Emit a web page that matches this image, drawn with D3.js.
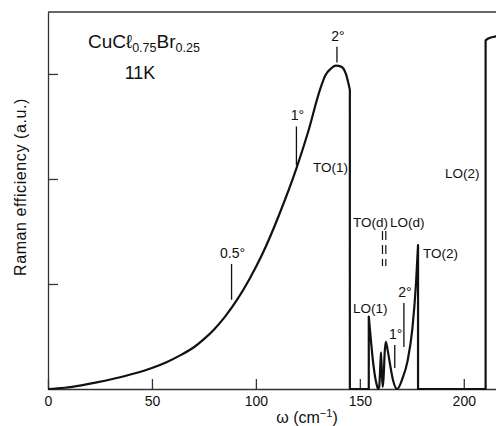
<!DOCTYPE html>
<html>
<head>
  <meta charset="utf-8">
  <title>Raman efficiency CuCl0.75Br0.25</title>
  <script src="https://d3js.org/d3.v7.min.js"></script>
  <style>
    body { margin: 0; background: #fff; }
    text { font-family: "Liberation Sans", Arial, sans-serif; fill: #111; }
  </style>
</head>
<body>
<script>
// spectrum (omega in cm-1, efficiency in a.u.)
// a repeated omega is a vertical jump in the trace
var omega = [0, 8, 16, 24, 32, 41, 50, 57, 64, 70, 75, 80, 85, 91.3, 97, 103, 111, 119.5, 125, 131,
             133.5, 136, 138.5, 141, 143.3, 145.2, 145.2, 154.3, 154.3, 155.3, 156.4, 157.3, 158, 158.8,
             159.3, 159.8, 160.2, 160.6, 161.0, 161.4, 162, 162.5, 163.3, 164.4, 166, 167.9, 170.5, 173,
             175.3, 177, 178, 178, 210.5, 210.5, 212, 216];
var efficiency = [0, 0.012, 0.035, 0.065, 0.10, 0.145, 0.20, 0.255, 0.325, 0.395, 0.475, 0.57, 0.685, 0.86, 1.05, 1.28, 1.65, 2.10, 2.44, 2.86,
             2.99, 3.05, 3.08, 3.07, 3.00, 2.85, 0, 0, 0.69, 0.47, 0.25, 0.12, 0.05, 0,
             0.02, 0.20, 0.35, 0.15, 0.02, 0.10, 0.36, 0.45, 0.38, 0.25, 0.08, 0, 0.10, 0.27,
             0.58, 1.0, 1.37, 0, 0, 3.32, 3.34, 3.36];

// temperature markers (angle labels)
var markLabels = ["0.5°", "1°", "2°", "1°", "2°"];
var markOmega = [88.3, 119.5, 139, 166.8, 171.2];
var markTop = [1.19, 2.50, 3.26, 0.42, 0.82];
var markBottom = [0.85, 2.13, 3.11, 0.20, 0.40];

// dashed TO(d) / LO(d) positions
var dOmega = [160.9, 162.5];

var xTicks = [0, 50, 100, 150, 200];
var yTicks = [1, 2, 3];

var w = 496, h = 426;
var x = d3.scaleLinear().domain([0, 215.5]).range([48, 496]);
var y = d3.scaleLinear().domain([0, 3.59]).range([389, 12]);

var svg = d3.select("body").append("svg").attr("width", w).attr("height", h);

// axes
var gx = svg.append("g").attr("transform", "translate(0,389)")
  .call(d3.axisBottom(x).tickValues(xTicks).tickSize(-10).tickSizeOuter(0).tickPadding(7));
gx.selectAll("text").attr("font-size", "14px").attr("fill", "#111");

var gy = svg.append("g").attr("transform", "translate(48,0)")
  .call(d3.axisLeft(y).tickValues(yTicks).tickSize(-10).tickSizeOuter(0).tickFormat(""));

svg.selectAll(".domain, .tick line").attr("stroke", "#333").attr("stroke-width", 1.3);

svg.append("line")
  .attr("x1", 48).attr("x2", 496).attr("y1", 12).attr("y2", 12)
  .attr("stroke", "#333").attr("stroke-width", 1.3);

// trace: smooth pieces joined by vertical jumps
var pts = omega.map(function(o, i) { return [o, efficiency[i]]; });
var segs = [[pts[0]]];
for (var i = 1; i < pts.length; i++) {
  if (pts[i][0] === pts[i - 1][0]) segs.push([pts[i]]);
  else segs[segs.length - 1].push(pts[i]);
}
var line = d3.line().x(function(d) { return x(d[0]); }).y(function(d) { return y(d[1]); })
  .curve(d3.curveMonotoneX);
var pathD = segs.map(function(s, k) {
  var d = s.length > 1 ? line(s) : "M" + x(s[0][0]) + "," + y(s[0][1]);
  return k === 0 ? d : "L" + d.slice(1);
}).join("");

svg.append("path").attr("d", pathD)
  .attr("fill", "none").attr("stroke", "#111").attr("stroke-width", 2.2)
  .attr("stroke-linejoin", "round");

// markers
markOmega.forEach(function(o, i) {
  svg.append("line")
    .attr("x1", x(o)).attr("x2", x(o))
    .attr("y1", y(markTop[i])).attr("y2", y(markBottom[i]))
    .attr("stroke", "#111").attr("stroke-width", 1.3);
  svg.append("text")
    .attr("x", x(o) + 1).attr("y", y(markTop[i]) - 6)
    .attr("text-anchor", "middle").attr("font-size", "14px")
    .text(markLabels[i]);
});

dOmega.forEach(function(o) {
  svg.append("line")
    .attr("x1", x(o)).attr("x2", x(o)).attr("y1", 231).attr("y2", 266)
    .attr("stroke", "#111").attr("stroke-width", 1.2)
    .attr("stroke-dasharray", "9,5");
});

// mode labels
var modes = [
  ["TO(1)", 313, 172], ["TO(d)", 353, 227], ["LO(d)", 390, 227],
  ["LO(1)", 353, 313], ["TO(2)", 423, 258], ["LO(2)", 445, 178]
];
modes.forEach(function(m) {
  svg.append("text").attr("x", m[1]).attr("y", m[2]).attr("font-size", "13.5px").text(m[0]);
});

// sample title
var t = svg.append("text").attr("x", 88).attr("y", 48).attr("font-size", "19px");
t.append("tspan").text("CuCℓ");
t.append("tspan").attr("font-size", "12.5px").attr("dy", 4).text("0.75");
t.append("tspan").attr("dy", -4).text("Br");
t.append("tspan").attr("font-size", "12.5px").attr("dy", 4).text("0.25");
svg.append("text").attr("x", 140).attr("y", 79).attr("text-anchor", "middle")
  .attr("font-size", "18px").text("11K");

// axis titles
svg.append("text")
  .attr("transform", "translate(26,187) rotate(-90)")
  .attr("text-anchor", "middle").attr("font-size", "16px").attr("letter-spacing", "0.6px")
  .text("Raman efficiency (a.u.)");

var xl = svg.append("text").attr("x", 307).attr("y", 423)
  .attr("text-anchor", "middle").attr("font-size", "16px");
xl.append("tspan").text("ω (cm");
xl.append("tspan").attr("font-size", "11px").attr("dy", -6).text("−1");
xl.append("tspan").attr("dy", 6).text(")");
</script>
</body>
</html>
